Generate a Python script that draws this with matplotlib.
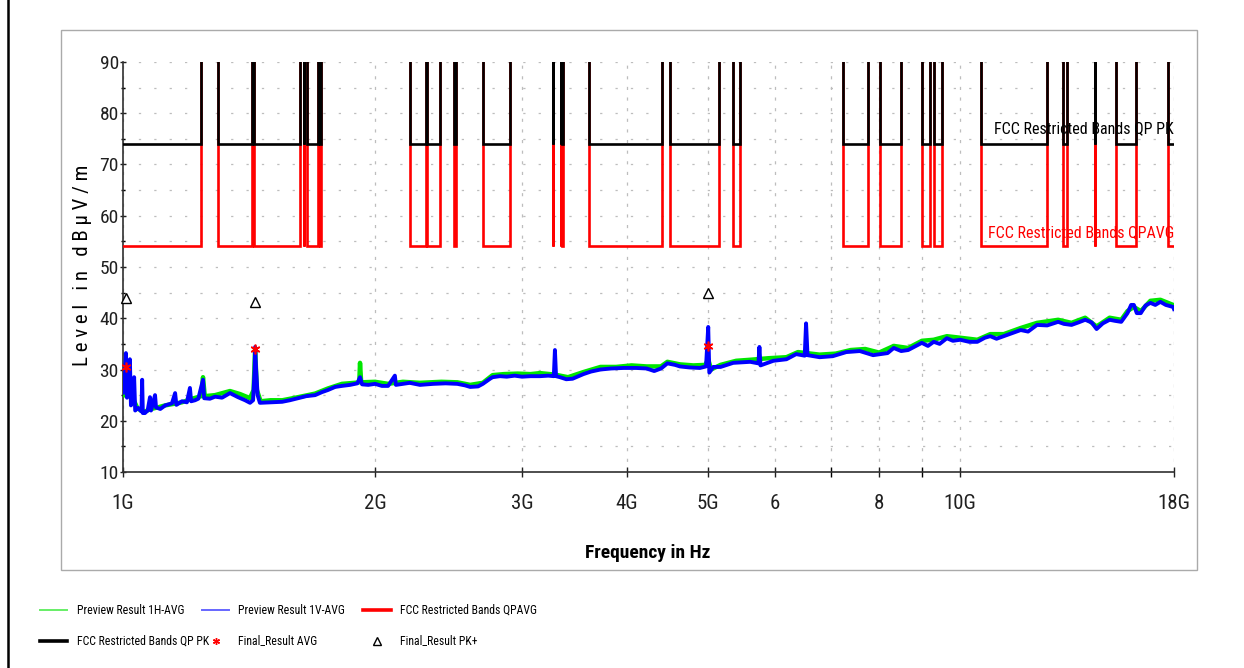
import numpy as np
import matplotlib
matplotlib.use('Agg')
import matplotlib.pyplot as plt
from matplotlib.lines import Line2D
from matplotlib.patches import Rectangle
from matplotlib.ticker import FixedLocator, FixedFormatter, NullFormatter
from matplotlib import font_manager

# pick the narrowest installed sans family
_names = {f.name for f in font_manager.fontManager.ttflist}
NARROW = [n for n in ['Roboto Condensed', 'Noto Sans ExtraCondensed',
                      'Noto Sans Condensed', 'Liberation Sans Narrow',
                      'DejaVu Sans'] if n in _names]
STRETCH = 'condensed'

## Data (frequencies in GHz, levels in dBuV/m)

# FCC 15.205 restricted bands above 1 GHz
band_lo = [0.96, 1.30, 1.435, 1.6455, 1.66, 1.7188, 2.20, 2.31, 2.4835, 2.69,
           3.26, 3.332, 3.3458, 3.60, 4.50, 5.35, 7.25, 8.025, 9.00, 9.30,
           10.60, 13.25, 14.47, 15.35, 17.70]
band_hi = [1.24, 1.427, 1.6265, 1.6465, 1.71, 1.7222, 2.30, 2.39, 2.50, 2.90,
           3.267, 3.339, 3.358, 4.40, 5.15, 5.46, 7.75, 8.50, 9.20, 9.50,
           12.70, 13.40, 14.50, 16.20, 21.40]
limit_pk = 74.0
limit_avg = 54.0

# Preview Result 1V-AVG (blue)
blue_f = [1.000, 1.004, 1.008, 1.011, 1.016, 1.019, 1.022, 1.028, 1.031, 1.034,
          1.042, 1.052, 1.054, 1.056, 1.062, 1.070, 1.077, 1.080, 1.092, 1.095,
          1.108, 1.123, 1.144, 1.154, 1.158, 1.176, 1.192, 1.202, 1.206, 1.219,
          1.230, 1.246, 1.250, 1.270, 1.288, 1.313, 1.342, 1.372, 1.399, 1.418,
          1.430, 1.436, 1.438, 1.442, 1.448, 1.457, 1.498, 1.549, 1.582, 1.618,
          1.655, 1.696, 1.729, 1.757, 1.792, 1.826, 1.867, 1.905, 1.919, 1.930,
          1.963, 2.000, 2.038, 2.073, 2.112, 2.118, 2.159, 2.200, 2.263, 2.347,
          2.428, 2.508, 2.562, 2.598, 2.655, 2.690, 2.744, 2.763, 2.820, 2.873,
          2.936, 2.996, 3.067, 3.148, 3.221, 3.270, 3.280, 3.290, 3.326, 3.384,
          3.443, 3.547, 3.622, 3.718, 3.829, 3.958, 4.103, 4.220, 4.310, 4.392,
          4.469, 4.564, 4.626, 4.750, 4.887, 4.970, 5.000, 5.015, 5.070, 5.172,
          5.356, 5.613, 5.740, 5.756, 5.773, 5.981, 6.200, 6.368, 6.520, 6.544,
          6.570, 6.793, 7.043, 7.309, 7.586, 7.869, 8.189, 8.329, 8.500, 8.665,
          8.997, 9.150, 9.295, 9.450, 9.638, 9.800, 10.00, 10.25, 10.48, 10.70,
          10.86, 11.05, 11.27, 11.50, 11.81, 12.05, 12.35, 12.70, 13.09, 13.30,
          13.58, 13.85, 14.10, 14.35, 14.55, 14.80, 15.08, 15.30, 15.57, 15.84,
          16.00, 16.12, 16.25, 16.43, 16.65, 16.87, 17.10, 17.34, 17.60, 17.96,
          18.00]
blue_v = [25.5, 27.0, 33.2, 24.5, 27.0, 32.0, 23.0, 24.5, 28.5, 22.0,
          22.5, 21.8, 28.0, 21.5, 21.5, 22.0, 24.6, 22.0, 25.0, 22.6,
          22.3, 23.0, 23.4, 25.4, 23.1, 23.8, 23.6, 26.4, 23.8, 24.0,
          24.3, 28.0, 24.4, 24.3, 24.7, 24.5, 25.4, 24.6, 24.0, 23.5,
          24.0, 30.0, 34.4, 30.0, 25.0, 23.5, 23.6, 23.7, 24.0, 24.4,
          24.8, 25.0, 25.6, 26.0, 26.6, 26.8, 27.0, 27.3, 28.5, 27.1,
          27.0, 27.2, 26.8, 26.8, 28.8, 27.0, 27.2, 27.4, 27.0, 27.2,
          27.3, 27.2, 26.9, 26.6, 26.7, 27.2, 28.2, 28.5, 28.7, 28.6,
          28.8, 28.6, 28.7, 28.7, 28.8, 28.7, 33.8, 28.7, 28.5, 28.1,
          28.2, 29.1, 29.6, 30.0, 30.2, 30.3, 30.3, 30.2, 29.7, 30.2,
          31.2, 30.9, 30.6, 30.4, 30.3, 30.6, 38.3, 29.4, 30.5, 30.5,
          31.3, 31.5, 31.2, 34.4, 30.8, 31.7, 32.0, 33.0, 32.7, 39.0,
          32.8, 32.4, 32.6, 33.4, 33.6, 32.8, 33.2, 34.2, 33.6, 33.8,
          35.2, 34.6, 35.4, 35.0, 36.1, 35.6, 35.8, 35.4, 35.4, 36.2,
          36.5, 36.0, 36.5, 37.0, 37.7, 37.4, 38.7, 38.6, 39.3, 38.9,
          38.7, 39.2, 39.7, 39.2, 37.9, 39.0, 39.7, 39.5, 39.3, 41.0,
          42.6, 42.6, 41.0, 41.0, 42.5, 43.0, 42.6, 43.2, 42.6, 42.2,
          41.8]

# Preview Result 1H-AVG (green)
green_f = [1.000, 1.006, 1.012, 1.020, 1.030, 1.040, 1.050, 1.062, 1.080, 1.100,
           1.123, 1.150, 1.176, 1.209, 1.240, 1.246, 1.252, 1.288, 1.342, 1.380,
           1.418, 1.432, 1.438, 1.445, 1.460, 1.500, 1.550, 1.618, 1.696, 1.757,
           1.826, 1.890, 1.915, 1.919, 1.925, 2.000, 2.073, 2.159, 2.263, 2.400,
           2.508, 2.598, 2.690, 2.763, 2.850, 2.960, 3.067, 3.148, 3.280, 3.400,
           3.547, 3.718, 3.880, 4.050, 4.220, 4.390, 4.469, 4.626, 4.800, 4.960,
           5.000, 5.040, 5.172, 5.400, 5.613, 5.900, 6.200, 6.400, 6.793, 7.100,
           7.400, 7.700, 8.000, 8.329, 8.665, 9.000, 9.295, 9.640, 10.00, 10.48,
           10.86, 11.27, 11.81, 12.35, 13.09, 13.58, 14.10, 14.55, 15.08, 15.57,
           15.84, 16.12, 16.43, 16.87, 17.34, 17.96, 18.00]
green_v = [25.0, 28.0, 25.0, 27.5, 24.0, 22.5, 22.0, 21.8, 22.3, 22.6,
           23.0, 23.3, 23.6, 24.3, 24.8, 28.5, 24.8, 25.0, 25.8, 25.2,
           24.4, 26.0, 34.0, 26.0, 23.8, 24.0, 24.0, 24.6, 25.3, 26.3,
           27.2, 27.4, 27.5, 31.3, 27.5, 27.6, 27.2, 27.6, 27.4, 27.6,
           27.5, 27.0, 27.4, 28.9, 29.1, 29.2, 29.1, 29.3, 29.0, 28.5,
           29.5, 30.5, 30.5, 30.8, 30.6, 30.6, 31.5, 31.0, 30.8, 30.9,
           32.0, 30.0, 30.9, 31.7, 31.9, 32.2, 32.4, 33.4, 32.9, 33.1,
           33.8, 34.0, 33.3, 34.6, 34.2, 35.6, 35.8, 36.5, 36.2, 35.8,
           36.9, 36.9, 38.1, 39.1, 39.7, 39.1, 40.1, 38.4, 40.1, 39.7,
           41.4, 42.2, 41.4, 43.4, 43.6, 42.6, 42.2]

# Final results
final_f = [1.008, 1.438, 5.000]
final_avg = [30.5, 34.0, 34.6]
final_pk = [44.0, 43.2, 44.9]

# Axis ticks
xticks_major = [1, 2, 3, 4, 5, 6, 8, 10, 18]
xtick_labels = ['1G', '2G', '3G', '4G', '5G', '6', '8', '10G', '18G']
xticks_minor = [7, 9]


def limit_steps(level, top=200.0):
    xs, ys = [], []
    for lo, hi in zip(band_lo, band_hi):
        xs += [lo, lo, hi, hi]
        ys += [top, level, level, top]
    return np.array(xs) * 1e9, ys


## Plot

fig = plt.figure(figsize=(12.44, 6.68), dpi=100)
fig.patch.set_facecolor('white')

# page border and chart frame
fig.add_artist(Line2D([0.0065, 0.0065], [0, 1], color='black', lw=1.8))
fig.add_artist(Rectangle((0.049, 0.1467), 0.9132, 0.8084, fill=False,
                         edgecolor='#aaaaaa', lw=1.0))

ax = fig.add_axes([0.0989, 0.2934, 0.8448, 0.6138])
ax.set_xscale('log')
ax.set_xlim(1e9, 18e9)
ax.set_ylim(10, 90)

grid_kw = dict(color='#bdbdbd', lw=0.9)
ax.xaxis.set_major_locator(FixedLocator(np.array(xticks_major) * 1e9))
ax.xaxis.set_major_formatter(FixedFormatter(xtick_labels))
ax.xaxis.set_minor_locator(FixedLocator(np.array(xticks_minor) * 1e9))
ax.xaxis.set_minor_formatter(NullFormatter())
ax.yaxis.set_major_locator(FixedLocator(range(10, 91, 10)))
ax.yaxis.set_minor_locator(FixedLocator(range(15, 90, 10)))
ax.grid(True, which='both', axis='x', linestyle=(0, (2.5, 6)), **grid_kw)
ax.grid(True, which='both', axis='y', linestyle=(0, (1.8, 10.5)), **grid_kw)
ax.set_axisbelow(True)

for side in ('top', 'right'):
    ax.spines[side].set_visible(False)
for side in ('left', 'bottom'):
    ax.spines[side].set_color('#303030')
    ax.spines[side].set_linewidth(1.2)

ax.tick_params(axis='x', which='major', direction='inout', length=7, width=1,
               pad=12, labelsize=15, colors='#202020')
ax.tick_params(axis='x', which='minor', direction='inout', length=7, width=1)
ax.tick_params(axis='y', which='major', direction='inout', length=4, width=1,
               pad=1, labelsize=14, colors='#202020')
ax.tick_params(axis='y', which='minor', direction='inout', length=3, width=1)
for lab in ax.get_xticklabels() + ax.get_yticklabels():
    lab.set_family(NARROW)
    lab.set_stretch(STRETCH)

# limit lines
xa, ya = limit_steps(limit_avg)
xp, yp = limit_steps(limit_pk)
ax.plot(xa, ya, color='#ff0000', lw=1.9, zorder=3, solid_joinstyle='miter')
ax.plot(xp, yp, color='black', lw=1.9, zorder=4, solid_joinstyle='miter')

# preview traces
ax.plot(np.array(green_f) * 1e9, green_v, color='#00e600', lw=3.2, zorder=5)
ax.plot(np.array(blue_f) * 1e9, blue_v, color='#0000ff', lw=2.8, zorder=6)

# final results
ax.plot(np.array(final_f) * 1e9, final_avg, ls='', marker=(6, 2, 0), ms=7,
        mew=1.2, color='red', zorder=8, clip_on=False)
ax.plot(np.array(final_f) * 1e9, final_pk, ls='', marker='^', ms=7, mew=1.0,
        mfc='white', mec='black', zorder=8, clip_on=False)

ax.text(18e9, 76.9, 'FCC Restricted Bands QP PK', ha='right', va='center',
        fontsize=11.5, color='black', family=NARROW, stretch=STRETCH, zorder=9)
ax.text(18e9, 56.8, 'FCC Restricted Bands QPAVG', ha='right', va='center',
        fontsize=11.5, color='#ff0000', family=NARROW, stretch=STRETCH, zorder=9)

fig.text(0.066, 1 - 265 / 668, 'L e v e l   i n   d B \u00b5 V / m',
         rotation=90, ha='center', va='center', fontsize=15, family=NARROW,
         stretch=STRETCH)
fig.text(648 / 1244, 1 - 553 / 668, 'Frequency in Hz', ha='center',
         va='center', fontsize=14, fontweight='bold', family=NARROW,
         stretch=STRETCH)

## Legend (three columns, two rows)

row1, row2 = 1 - 610 / 668, 1 - 641 / 668
leg_font = dict(fontsize=8.5, family=NARROW, stretch=STRETCH, va='center',
                ha='left')
col_handle = [(40, 67), (202, 229), (363, 391)]
col_text = [77, 238, 400]


def leg_line(col, y, **kw):
    x0, x1 = col_handle[col]
    fig.add_artist(Line2D([x0 / 1244, x1 / 1244], [y, y], **kw))


def leg_mark(col, y, x, **kw):
    fig.add_artist(Line2D([x / 1244], [y], ls='', **kw))


def leg_text(col, y, s):
    fig.text(col_text[col] / 1244, y, s, **leg_font)


leg_line(0, row1, color='#66ee66', lw=1.4)
leg_text(0, row1, 'Preview Result 1H-AVG')
leg_line(1, row1, color='#6666ff', lw=1.4)
leg_text(1, row1, 'Preview Result 1V-AVG')
leg_line(2, row1, color='#ff0000', lw=2.6)
leg_text(2, row1, 'FCC Restricted Bands QPAVG')

leg_line(0, row2, color='black', lw=2.6)
leg_text(0, row2, 'FCC Restricted Bands QP PK')
leg_mark(1, row2, 216, marker=(6, 2, 0), ms=5, mew=1.0, color='red')
leg_text(1, row2, 'Final_Result AVG')
leg_mark(2, row2, 377, marker='^', ms=6, mew=1.0, mfc='white', mec='black')
leg_text(2, row2, 'Final_Result PK+')

fig.savefig('out.png', dpi=100)
